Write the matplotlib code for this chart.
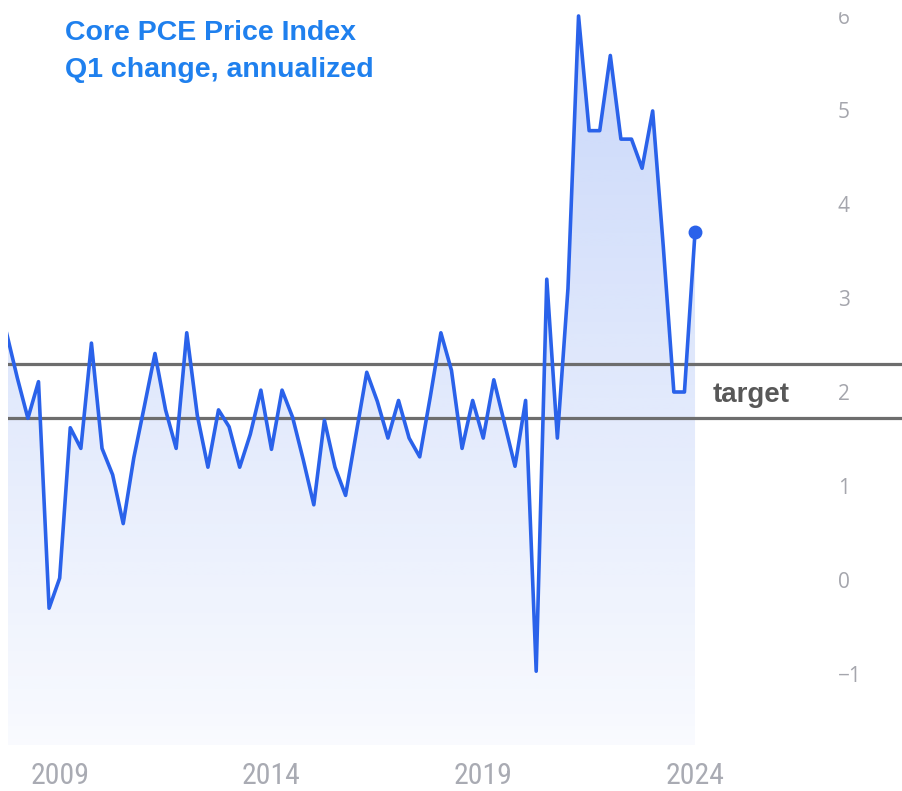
import matplotlib

matplotlib.use("Agg")
import numpy as np
import pandas as pd
from matplotlib import pyplot as plt
from matplotlib.colors import to_rgb
from matplotlib.patches import Rectangle

# quarterly core PCE, annualized % change, 2007Q4 .. 2024Q1
first_quarter = "2007Q4"
last_quarter = "2024Q1"
core_pce = [
    2.62, 2.15, 1.72, 2.11, -0.30, 0.02, 1.62, 1.40, 2.52, 1.40,
    1.12, 0.60, 1.30, 1.85, 2.41, 1.81, 1.40, 2.63, 1.75, 1.20,
    1.81, 1.63, 1.20, 1.55, 2.02, 1.39, 2.02, 1.73, 1.28, 0.80,
    1.70, 1.20, 0.90, 1.56, 2.21, 1.90, 1.51, 1.91, 1.51, 1.31,
    1.95, 2.63, 2.23, 1.40, 1.91, 1.51, 2.13, 1.67, 1.21, 1.91,
    -0.97, 3.20, 1.51, 3.10, 6.00, 4.78, 4.78, 5.58, 4.69, 4.69,
    4.38, 4.99, 3.55, 2.00, 2.00, 3.70,
]
target_band = [1.72, 2.30]
year_ticks = [2009, 2014, 2019, 2024]
value_ticks = [-1, 0, 1, 2, 3, 4, 5, 6]
title_lines = ["Core PCE Price Index", "Q1 change, annualized"]

periods = pd.period_range(first_quarter, last_quarter, freq="Q")
t = np.asarray(periods.year + (periods.quarter - 1) / 4, dtype=float)
values = np.asarray(core_pce)

W, H = 903, 791
line_color = "#2a62ea"
title_color = "#1f80ee"

fig = plt.figure(figsize=(W / 100, H / 100), dpi=100)
ax = fig.add_axes([8 / W, 46 / H, 895 / W, 745 / H])
xlim = (2007.78, 2028.91)
ylim = (-1.755, 6.17)
ybot, ytop = ylim

# vertical gradient under the line
alpha = np.linspace(0.03, 0.26, 256)[:, None]
rgba = np.zeros((256, 1, 4))
rgba[..., :3] = to_rgb(line_color)
rgba[..., 3] = alpha
im = ax.imshow(rgba, extent=[t[0], t[-1], ybot, ytop], origin="lower",
               aspect="auto", interpolation="bilinear", zorder=1)
area = ax.fill_between(t, values, ybot, facecolor="none", edgecolor="none")
im.set_clip_path(area.get_paths()[0], transform=ax.transData)
ax.set_xlim(*xlim)
ax.set_ylim(*ylim)

for level in target_band:
    ax.axhline(level, color="#6d6d6d", lw=2.3, zorder=2)

ax.plot(t, values, color=line_color, lw=2.6, solid_joinstyle="round", zorder=4)
ax.plot(t[-1], values[-1], "o", color=line_color, ms=9, zorder=5)

ax.text(2024.42, np.mean(target_band) - 0.04, "target", ha="left", va="center",
        fontsize=20, fontweight="bold", color="#585858",
        family=["Liberation Sans", "DejaVu Sans"], zorder=5)

ax.set_xticks(year_ticks, labels=[str(y) for y in year_ticks],
              fontfamily=["Roboto Condensed", "DejaVu Sans"],
              fontsize=21.5, color="#a9abb3")
ax.tick_params(axis="x", length=0, pad=12)

ax.yaxis.tick_right()
ax.set_yticks(value_ticks, labels=[str(v).replace("-", "\u2212") for v in value_ticks],
              fontfamily=["Open Sans", "DejaVu Sans"], fontsize=15, color="#a5a6ad")
ax.tick_params(axis="y", length=0, pad=-47)

for side in ax.spines.values():
    side.set_visible(False)

# the screenshot cuts the top tick label off
fig.add_artist(Rectangle((790 / W, 1 - 11 / H), 113 / W, 11 / H,
                         transform=fig.transFigure, color="white", zorder=10))

for i, line in enumerate(title_lines):
    fig.text(65 / W, 1 - (33 + 37 * i) / H, line, ha="left", va="center",
             fontsize=20.5, fontweight="bold", color=title_color,
             family=["Liberation Sans", "DejaVu Sans"])

fig.savefig("out.png", dpi=100)
